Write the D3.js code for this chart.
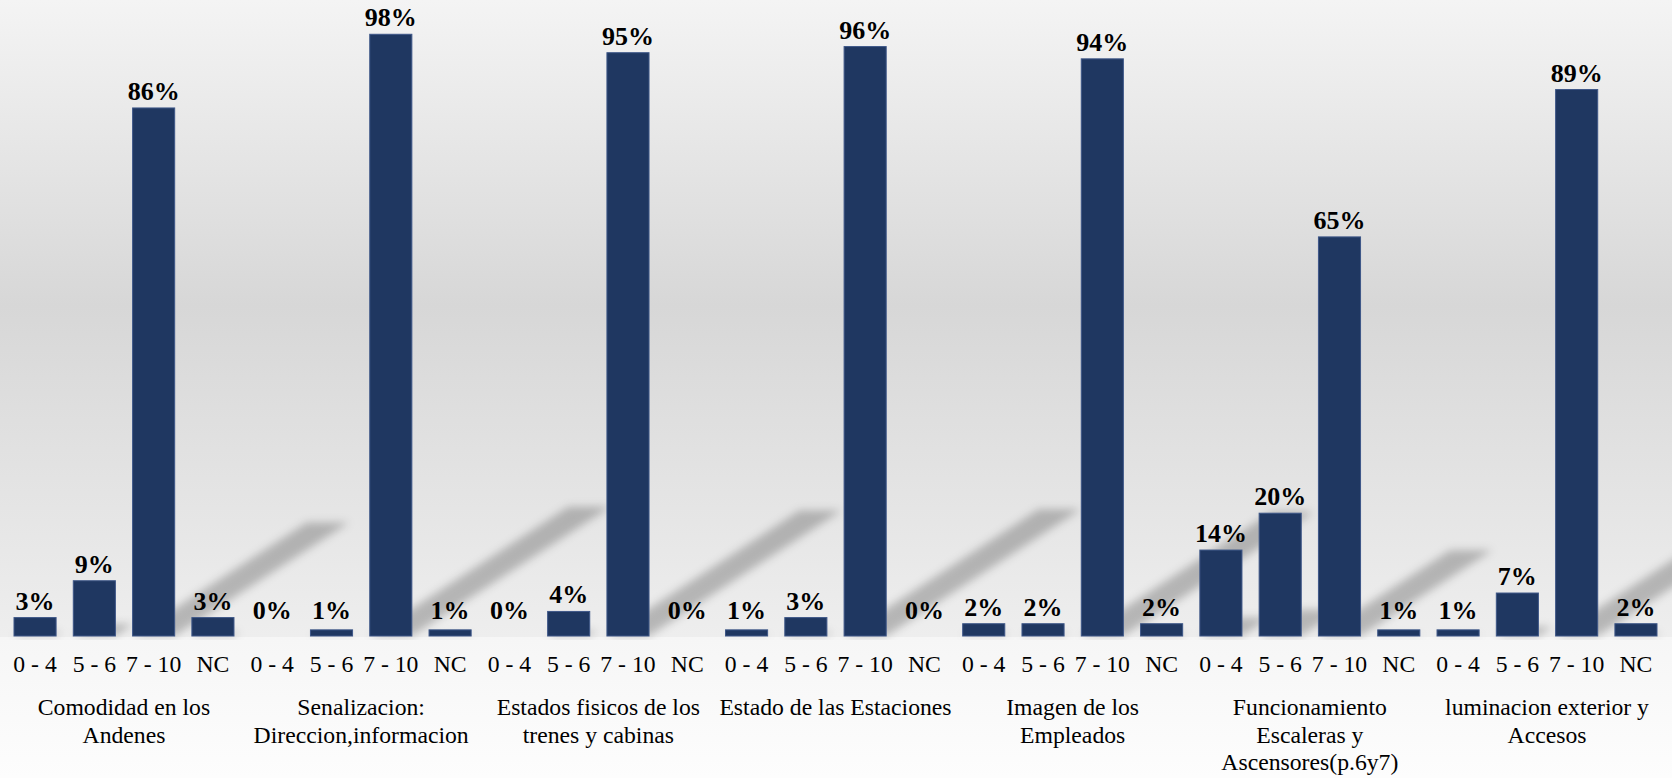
<!DOCTYPE html>
<html lang="es">
<head>
<meta charset="utf-8">
<title>Valoración del servicio</title>
<script src="https://cdn.jsdelivr.net/npm/d3@7"></script>
<style>
  html, body { margin: 0; padding: 0; background: #ffffff; }
  svg { display: block; }
  text { font-family: "Liberation Serif", "Times New Roman", serif; fill: #000; }
</style>
</head>
<body>
<svg id="chart" width="1677" height="778"></svg>
<script>
// Rating bands shown under every group
const ratings = ["0 - 4", "5 - 6", "7 - 10", "NC"];

// Groups (each entry holds the lines of its caption)
const categories = [
  ["Comodidad en los", "Andenes"],
  ["Senalizacion:", "Direccion,informacion"],
  ["Estados fisicos de los", "trenes y cabinas"],
  ["Estado de las Estaciones"],
  ["Imagen de los", "Empleados"],
  ["Funcionamiento", "Escaleras y", "Ascensores(p.6y7)"],
  ["luminacion exterior y", "Accesos"]
];

// Share of answers per rating band, one array per group
const comodidad     = [0.03, 0.09, 0.86, 0.03];
const senalizacion  = [0.00, 0.01, 0.98, 0.01];
const estadoTrenes  = [0.00, 0.04, 0.95, 0.00];
const estaciones    = [0.01, 0.03, 0.96, 0.00];
const empleados     = [0.02, 0.02, 0.94, 0.02];
const escaleras     = [0.14, 0.20, 0.65, 0.01];
const iluminacion   = [0.01, 0.07, 0.89, 0.02];

const seriesValues = [comodidad, senalizacion, estadoTrenes, estaciones, empleados, escaleras, iluminacion];

// Flatten into one row per bar
const rows = [];
categories.forEach((cat, gi) => {
  ratings.forEach((r, ri) => {
    rows.push({ key: gi + "|" + ri, group: gi, rating: r, value: seriesValues[gi][ri] });
  });
});

const W = 1677, H = 778;
const baseY = 636, topY = 22;
const wallRight = 1672;

const svg = d3.select("#chart");
const defs = svg.append("defs");

// Background gradients
const wallGrad = defs.append("linearGradient")
  .attr("id", "wallGrad").attr("x1", 0).attr("y1", 0).attr("x2", 0).attr("y2", 1);
wallGrad.append("stop").attr("offset", "0%").attr("stop-color", "#f4f4f4");
wallGrad.append("stop").attr("offset", "48%").attr("stop-color", "#d7d7d7");
wallGrad.append("stop").attr("offset", "100%").attr("stop-color", "#eeeeee");

const floorGrad = defs.append("linearGradient")
  .attr("id", "floorGrad").attr("x1", 0).attr("y1", 0).attr("x2", 0).attr("y2", 1);
floorGrad.append("stop").attr("offset", "0%").attr("stop-color", "#f6f6f6");
floorGrad.append("stop").attr("offset", "100%").attr("stop-color", "#fdfdfd");

const blur = defs.append("filter").attr("id", "shadowBlur")
  .attr("x", "-20%").attr("y", "-20%").attr("width", "140%").attr("height", "140%");
blur.append("feGaussianBlur").attr("stdDeviation", 4.2);

defs.append("clipPath").attr("id", "wallClip")
  .append("rect").attr("x", 0).attr("y", 0).attr("width", wallRight).attr("height", baseY + 4);

svg.append("rect").attr("x", 0).attr("y", 0).attr("width", W).attr("height", H).attr("fill", "#ffffff");
svg.append("rect").attr("x", 0).attr("y", 0).attr("width", wallRight).attr("height", baseY + 1)
  .attr("fill", "url(#wallGrad)");
svg.append("rect").attr("x", 0).attr("y", baseY + 1).attr("width", wallRight).attr("height", H - baseY - 1)
  .attr("fill", "url(#floorGrad)");

// Scales
const x = d3.scaleBand()
  .domain(rows.map(d => d.key))
  .range([5.4, 1665.6])
  .paddingInner(0.29)
  .paddingOuter(0.145);

const y = d3.scaleLinear().domain([0, 1]).range([baseY, topY]);

// Cast shadows behind the columns
const shadowLayer = svg.append("g").attr("clip-path", "url(#wallClip)")
  .append("g").attr("filter", "url(#shadowBlur)");
shadowLayer.selectAll("path")
  .data(rows.filter(d => d.value > 0))
  .join("path")
  .attr("d", d => {
    const x0 = x(d.key), x1 = x0 + x.bandwidth();
    const h = y(0) - y(d.value);
    const dx = 0.33 * h, dy = -0.215 * h;
    return `M${x0},${baseY} L${x1},${baseY} L${x1 + dx},${baseY + dy} L${x0 + dx},${baseY + dy} Z`;
  })
  .attr("fill", "#000")
  .attr("fill-opacity", 0.23);

// Columns
svg.append("g").selectAll("rect")
  .data(rows)
  .join("rect")
  .attr("x", d => x(d.key))
  .attr("y", d => y(d.value))
  .attr("width", x.bandwidth())
  .attr("height", d => y(0) - y(d.value))
  .attr("fill", "#1f3761")
  .attr("stroke", "#3e5788")
  .attr("stroke-width", d => d.value > 0 ? 1 : 0);

// Value labels
const pct = d3.format(".0%");
svg.append("g").selectAll("text")
  .data(rows)
  .join("text")
  .attr("x", d => x(d.key) + x.bandwidth() / 2)
  .attr("y", d => Math.min(y(d.value) - 8, 619))
  .attr("text-anchor", "middle")
  .style("font-size", "26px")
  .style("font-weight", "bold")
  .text(d => pct(d.value));

// Rating labels along the bottom
const axis = d3.axisBottom(x)
  .tickSize(0)
  .tickPadding(19)
  .tickFormat(k => ratings[+k.split("|")[1]]);
const axisG = svg.append("g").attr("transform", `translate(0,${baseY})`).call(axis);
axisG.select(".domain").remove();
axisG.selectAll("text")
  .style("font-family", "\"Liberation Serif\", \"Times New Roman\", serif")
  .style("font-size", "23.7px")
  .attr("fill", "#000");

// Group captions
const capG = svg.append("g");
categories.forEach((lines, gi) => {
  const first = x(gi + "|0");
  const last = x(gi + "|" + (ratings.length - 1)) + x.bandwidth();
  const cx = (first + last) / 2;
  const t = capG.append("text")
    .attr("text-anchor", "middle")
    .style("font-size", "23.7px");
  lines.forEach((ln, li) => {
    t.append("tspan").attr("x", cx).attr("y", 715 + li * 27.5).text(ln);
  });
});
</script>
</body>
</html>
